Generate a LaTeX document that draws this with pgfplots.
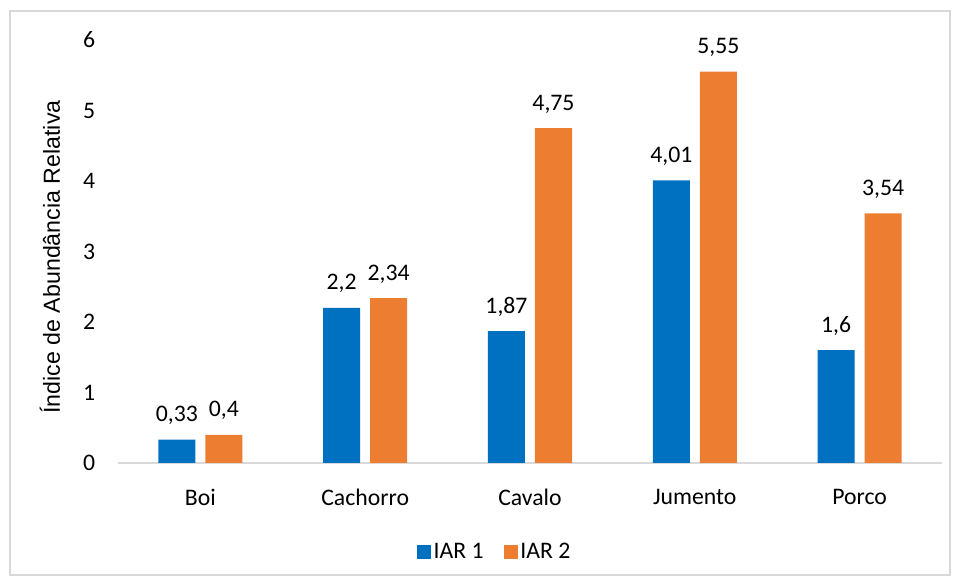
\documentclass[border=0pt]{standalone}
\usepackage{pgfplots}
\pgfplotsset{compat=1.18}
\usepackage{fontspec}
\setmainfont{Carlito}
\newfontfamily\arialf{Liberation Sans}
\definecolor{cblue}{HTML}{0070C0}
\definecolor{corange}{HTML}{ED7D31}
\definecolor{cgrid}{HTML}{D9D9D9}
\begin{document}
\begin{tikzpicture}
\fontsize{17.8}{21}\selectfont
\begin{axis}[
  scale only axis,
  width=618pt, height=317.25pt,
  ybar=7.5pt, bar width=27.75pt,
  xmin=-0.5, xmax=4.5,
  ymin=0, ymax=6,
  xtick=data,
  xticklabels={Boi,Cachorro,Cavalo,Jumento,Porco},
  ytick={0,1,2,3,4,5,6},
  major tick length=0pt,
  axis lines*=left,
  y axis line style={draw=none},
  x axis line style={draw=cgrid, line width=1.2pt},
  tick label style={font=\fontsize{17.8}{21}\selectfont},
  /pgf/number format/assume math mode=true,
  yticklabel style={inner sep=0pt, anchor=east, xshift=-17pt},
  xticklabel style={inner sep=0pt, anchor=center, yshift=-25.5pt},
  ylabel={Índice de Abundância Relativa},
  ylabel style={at={(axis description cs:-0.0825,0.487)}, anchor=center, inner sep=0pt, font=\arialf\fontsize{17.4}{21}\selectfont},
  nodes near coords,
  nodes near coords style={font=\fontsize{17.8}{21}\selectfont, /pgf/number format/use comma, /pgf/number format/assume math mode=true, anchor=south, inner sep=0pt, yshift=11pt},
  legend columns=2,
  legend style={draw=none, fill=none, at={(axis description cs:0.4575,-0.211)}, anchor=center,
    font=\fontsize{17.8}{21}\selectfont,
    /tikz/every even column/.append style={column sep=13pt}},
  legend image code/.code={\fill[#1] (0pt,-5.25pt) rectangle (10.5pt,5.25pt);},
]
\addplot[fill=cblue, draw=none] coordinates {(0,0.33) (1,2.2) (2,1.87) (3,4.01) (4,1.6)};
\addplot[fill=corange, draw=none] coordinates {(0,0.4) (1,2.34) (2,4.75) (3,5.55) (4,3.54)};
\legend{IAR 1, IAR 2}
\end{axis}
\draw[cgrid, line width=1.5pt] (-81pt,339pt) rectangle (624pt,-84pt);
\useasboundingbox (-88.5pt,347.25pt) rectangle (629.25pt,-88.5pt);
\end{tikzpicture}
\end{document}
